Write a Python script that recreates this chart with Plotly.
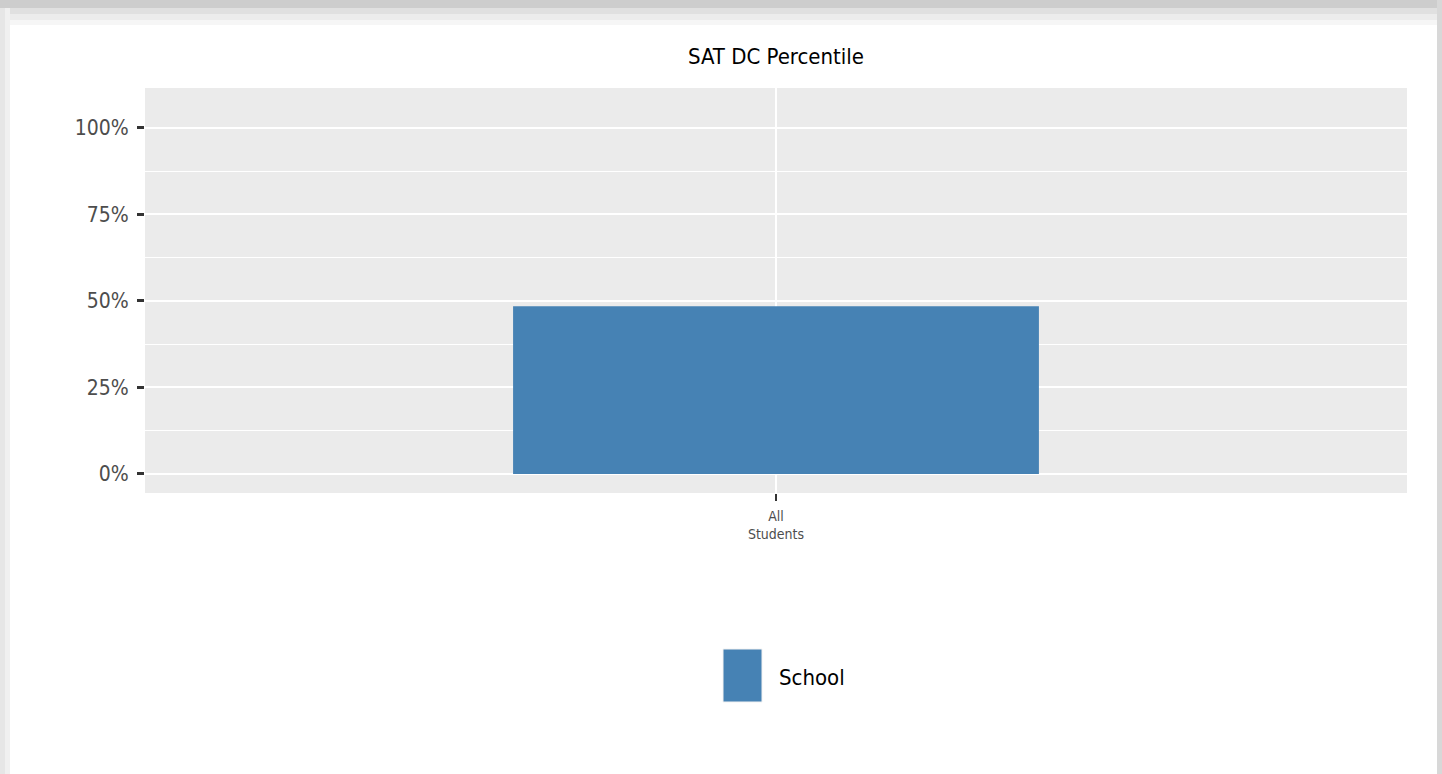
import plotly.graph_objects as go

# data
categories = ["All Students"]
school_pct = [0.485]
y_tickvals = [0, 0.25, 0.5, 0.75, 1.0]

W, H = 1442, 774
L, R, T, B = 145, 35, 88, 281
plot_w = W - L - R
plot_h = H - T - B


def px(x):
    return (x - L) / plot_w


def py(y):
    return (H - B - y) / plot_h


fig = go.Figure()
fig.add_bar(
    x=categories,
    y=school_pct,
    width=0.5,
    marker={"color": "#4682B4", "line": {"width": 0}},
    name="School",
    showlegend=False,
    hovertemplate="%{x}: %{y:.1%}<extra>School</extra>",
)

font = "DejaVu Sans Condensed, Liberation Sans, Arial"

shapes = []
# card shadow around the page
for y0, y1, c in [(0, 8, "#cdcdcd"), (8, 14, "#e0e0e0"), (14, 20, "#ececec"), (20, 25, "#f6f6f6")]:
    shapes.append(dict(type="rect", xref="paper", yref="paper", x0=px(0), x1=px(1437),
                       y0=py(y1), y1=py(y0), fillcolor=c, line_width=0, layer="below"))
for x0, x1, c in [(0, 5, "#e6e6e6"), (5, 10, "#f0f0f0")]:
    shapes.append(dict(type="rect", xref="paper", yref="paper", x0=px(x0), x1=px(x1),
                       y0=py(H), y1=py(8), fillcolor=c, line_width=0, layer="below"))
shapes.append(dict(type="rect", xref="paper", yref="paper", x0=px(1437), x1=px(W),
                   y0=py(H), y1=py(0), fillcolor="#d8d8d8", line_width=0, layer="below"))
# legend key
shapes.append(dict(type="rect", xref="paper", yref="paper", x0=px(723), x1=px(762),
                   y0=py(702), y1=py(649), fillcolor="#4682B4", line={"color": "#f2f2f2", "width": 1}))

fig.update_layout(
    width=W,
    height=H,
    margin={"l": L, "r": R, "t": T, "b": B},
    paper_bgcolor="white",
    plot_bgcolor="#EBEBEB",
    showlegend=False,
    title={"text": "SAT DC Percentile", "xref": "paper", "x": 0.5, "xanchor": "center",
           "yref": "container", "y": 1 - 56 / H, "yanchor": "middle",
           "font": {"family": font, "size": 22, "color": "black"}},
    shapes=shapes,
    annotations=[dict(text="School", xref="paper", yref="paper", x=px(777), y=py(677),
                      xanchor="left", yanchor="middle", showarrow=False,
                      font={"family": font, "size": 22, "color": "black"})],
    xaxis={
        "range": [-0.6, 0.6],
        "tickvals": categories,
        "ticktext": ["All<br>Students"],
        "showgrid": True,
        "gridcolor": "white",
        "gridwidth": 2,
        "zeroline": False,
        "ticks": "outside",
        "ticklen": 7,
        "tickwidth": 2,
        "tickcolor": "#333333",
        "ticklabelstandoff": 3,
        "tickfont": {"family": font, "size": 14, "color": "#4d4d4d"},
        "fixedrange": True,
    },
    yaxis={
        "range": [-0.055, 1.1156],
        "tickvals": y_tickvals,
        "tickformat": ".0%",
        "showgrid": True,
        "gridcolor": "white",
        "gridwidth": 2.2,
        "zeroline": False,
        "ticks": "outside",
        "ticklen": 7,
        "tickwidth": 2.5,
        "tickcolor": "#333333",
        "ticklabelstandoff": 4,
        "tickfont": {"family": font, "size": 21, "color": "#4d4d4d"},
        "minor": {"tickvals": [0.125, 0.375, 0.625, 0.875, 1.125], "showgrid": True,
                  "gridcolor": "white", "gridwidth": 1.1, "ticks": ""},
        "fixedrange": True,
    },
)

# drop the default 8px page margin so the figure sits at the window's corner
fig.write_html("out.html", config={"displayModeBar": False},
               post_script="document.body.style.margin = '0';")
